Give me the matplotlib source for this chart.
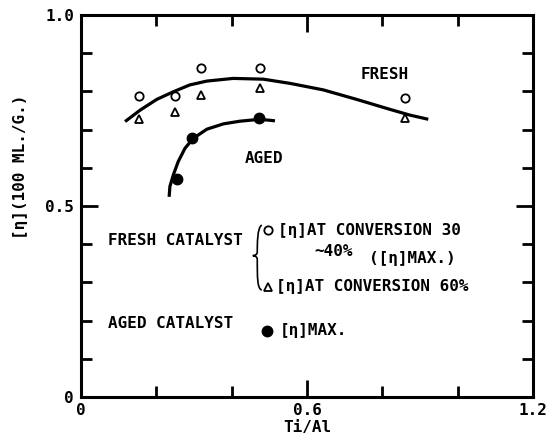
import matplotlib
matplotlib.use("Agg")
import matplotlib.pyplot as plt
from matplotlib.path import Path
from matplotlib.patches import PathPatch

# data
fresh_x = [0.155, 0.250, 0.319, 0.474, 0.860]
fresh_circle_y = [0.789, 0.789, 0.862, 0.862, 0.784]   # [eta] at conversion 30~40%
fresh_triangle_y = [0.729, 0.747, 0.790, 0.808, 0.731]  # [eta] at conversion 60%
aged_x = [0.256, 0.296, 0.472]
aged_y = [0.570, 0.677, 0.731]

fresh_curve_x = [0.117, 0.157, 0.201, 0.245, 0.289, 0.334, 0.404, 0.484,
                 0.555, 0.643, 0.732, 0.820, 0.873, 0.922]
fresh_curve_y = [0.721, 0.751, 0.779, 0.799, 0.817, 0.827, 0.834, 0.832,
                 0.821, 0.804, 0.779, 0.753, 0.738, 0.727]
aged_curve_x = [0.234, 0.236, 0.245, 0.258, 0.276, 0.298, 0.334, 0.378,
                0.422, 0.475, 0.515]
aged_curve_y = [0.524, 0.551, 0.581, 0.616, 0.651, 0.677, 0.701, 0.715,
                0.722, 0.727, 0.723]

x_major = [0, 0.6, 1.2]
x_major_labels = ["0", "0.6", "1.2"]
x_minor = [0.2, 0.4, 0.8, 1.0]
y_major = [0, 0.5, 1.0]
y_major_labels = ["0", "0.5", "1.0"]
y_minor = [0.1, 0.2, 0.3, 0.4, 0.6, 0.7, 0.8, 0.9]

plt.rcParams['font.family'] = ['DejaVu Sans Mono', 'DejaVu Sans']
plt.rcParams['font.weight'] = 'bold'
FS = 11.5

fig = plt.figure(figsize=(5.49, 4.36), dpi=100)
ax = fig.add_axes([81 / 549, 39 / 436, 452 / 549, 382 / 436])

ax.plot(fresh_curve_x, fresh_curve_y, color='black', lw=2.3, solid_capstyle='butt')
ax.plot(aged_curve_x, aged_curve_y, color='black', lw=2.3, solid_capstyle='butt')
ax.plot(fresh_x, fresh_circle_y, 'o', ms=6, mfc='white', mec='black', mew=1.3)
ax.plot(fresh_x, fresh_triangle_y, '^', ms=5.5, mfc='white', mec='black', mew=1.3)
ax.plot(aged_x, aged_y, 'o', ms=7.5, color='black')

ax.set_xlim(0, 1.2)
ax.set_ylim(0, 1.0)

ax.set_xticks(x_major)
ax.set_xticklabels(x_major_labels, fontsize=FS)
ax.set_xticks(x_minor, minor=True)
ax.set_yticks(y_major)
ax.set_yticklabels(y_major_labels, fontsize=FS)
ax.set_yticks(y_minor, minor=True)
ax.tick_params(which='both', direction='in', top=True, right=True, width=2, color='black')
ax.tick_params(which='major', length=12)
ax.tick_params(which='minor', length=8)
ax.tick_params(axis='x', which='major', pad=4)
ax.tick_params(axis='y', which='major', pad=5)
for s in ax.spines.values():
    s.set_linewidth(2.2)

fig.text(307 / 549, 1 / 436, "Ti/Al", ha='center', va='bottom', fontsize=FS)
fig.text(20 / 549, 1 - 167 / 436, "[\u03b7](100 ML./G.)", ha='center', va='center',
         rotation=90, fontsize=FS)

# curve labels
ax.text(0.806, 0.843, "FRESH", ha='center', va='center', fontsize=FS)
ax.text(0.486, 0.625, "AGED", ha='center', va='center', fontsize=FS)

# key
ax.text(0.071, 0.409, "FRESH CATALYST", ha='left', va='center', fontsize=FS)
ax.plot([0.497], [0.437], 'o', ms=6, mfc='white', mec='black', mew=1.3, clip_on=False)
ax.text(0.523, 0.437, "[\u03b7]AT CONVERSION 30", ha='left', va='center', fontsize=FS)
ax.text(0.670, 0.381, "~40%", ha='center', va='center', fontsize=FS)
ax.text(0.765, 0.362, "([\u03b7]MAX.)", ha='left', va='center', fontsize=FS)
ax.plot([0.497], [0.289], '^', ms=5.5, mfc='white', mec='black', mew=1.3, clip_on=False)
ax.text(0.518, 0.289, "[\u03b7]AT CONVERSION 60%", ha='left', va='center', fontsize=FS)
ax.text(0.071, 0.193, "AGED CATALYST", ha='left', va='center', fontsize=FS)
ax.plot([0.493], [0.173], 'o', ms=7.5, color='black', clip_on=False)
ax.text(0.528, 0.173, "[\u03b7]MAX.", ha='left', va='center', fontsize=FS)

# brace joining the two fresh-catalyst entries
bx, by_top, by_mid, by_bot = 0.468, 0.445, 0.37, 0.283
verts = [(bx + 0.012, by_top + 0.005), (bx, by_top), (bx, by_mid + 0.03), (bx, by_mid + 0.01),
         (bx, by_mid), (bx - 0.012, by_mid), (bx - 0.012, by_mid),
         (bx - 0.012, by_mid), (bx, by_mid), (bx, by_mid - 0.01),
         (bx, by_bot + 0.03), (bx, by_bot), (bx + 0.012, by_bot - 0.003)]
codes = [Path.MOVETO] + [Path.CURVE4] * 12
ax.add_patch(PathPatch(Path(verts, codes), fill=False, lw=1.2, color='black'))

fig.savefig("out.png", dpi=100)
